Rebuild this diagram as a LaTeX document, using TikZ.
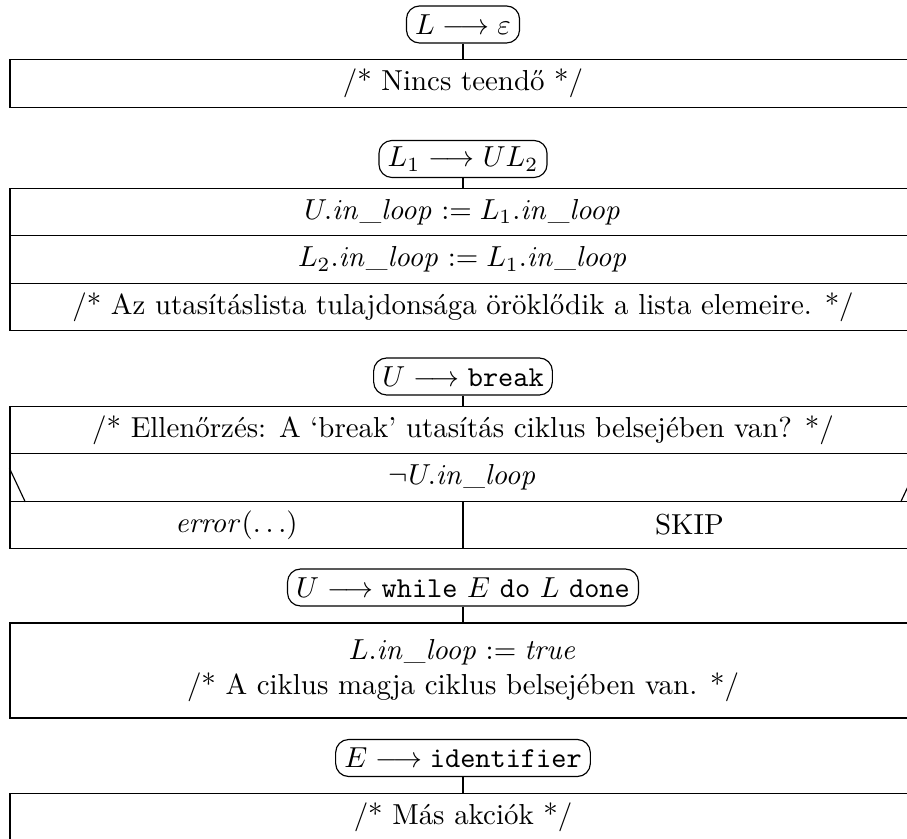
\documentclass[tikz,border=0pt]{standalone}
\usepackage{amsmath}
\usepackage{tikz}
\usetikzlibrary{positioning}

\begin{document}
\begin{tikzpicture}[x=0.346pt,y=0.346pt,
  rule/.style={draw,rounded corners=4.5pt,inner xsep=3pt,inner ysep=0pt,minimum height=12.8pt},
  row/.style={draw,minimum width=313.5pt,minimum height=16.5pt,inner sep=0pt},
  half/.style={draw,minimum width=156.7pt,minimum height=16.5pt,inner sep=0pt}]
  \useasboundingbox (0,0) rectangle (907,-839);
  % L -> epsilon
  \node[rule] (r1) at (463,-24.5) {$L \longrightarrow \varepsilon$};
  \node[row] (a1) at (463,-83.5) {/* Nincs teendő */};
  \draw (r1) -- (a1);
  % L1 -> U L2
  \node[rule] (r2) at (463,-159) {$L_1 \longrightarrow U L_2$};
  \node[row] (b1) at (463,-212) {$U.\mathit{in\_loop} := L_1.\mathit{in\_loop}$};
  \node[row] (b2) at (463,-259.5) {$L_2.\mathit{in\_loop} := L_1.\mathit{in\_loop}$};
  \node[row] (b3) at (463,-307) {/* Az utasításlista tulajdonsága öröklődik a lista elemeire. */};
  \draw (r2) -- (b1);
  % U -> break
  \node[rule] (r3) at (463,-376.5) {$U \longrightarrow \texttt{break}$};
  \node[row] (c1) at (463,-430) {/* Ellenőrzés: A `break' utasítás ciklus belsejében van? */};
  \node[row] (c2) at (463,-477.5) {$\neg U.\mathit{in\_loop}$};
  \node[half] (c3l) at (236.5,-525) {$\mathit{error}(\ldots)$};
  \node[half] (c3r) at (689.5,-525) {SKIP};
  \draw (r3) -- (c1);
  \draw ([yshift=-5.2pt]c2.north west) -- ([xshift=5.5pt]c2.south west);
  \draw ([yshift=-5.2pt]c2.north east) -- ([xshift=-5.5pt]c2.south east);
  % U -> while
  \node[rule] (r4) at (463,-587.5) {$U \longrightarrow \texttt{while}\ E\ \texttt{do}\ L\ \texttt{done}$};
  \node[row,align=center,minimum height=32.9pt] (d1) at (463,-670.5)
    {$L.\mathit{in\_loop} := \mathit{true}$\\ /* A ciklus magja ciklus belsejében van. */};
  \draw (r4) -- (d1);
  % E -> identifier
  \node[rule] (r5) at (463,-758) {$E \longrightarrow \texttt{identifier}$};
  \node[row] (e1) at (463,-817) {/* Más akciók */};
  \draw (r5) -- (e1);
\end{tikzpicture}
\end{document}
